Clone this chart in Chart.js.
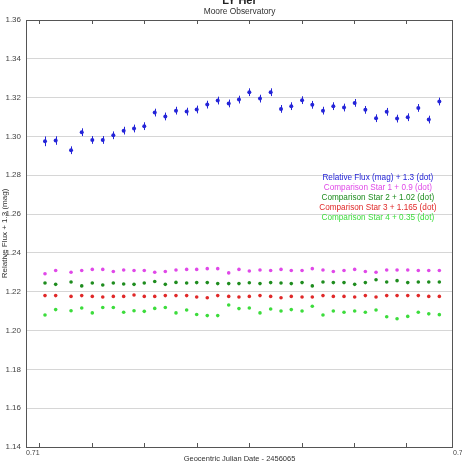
<!DOCTYPE html>
<html>
<head>
<meta charset="utf-8">
<title>LY Her</title>
<script src="https://cdn.jsdelivr.net/npm/chart.js@4"></script>
<style>
  html, body { margin: 0; padding: 0; background: #fff; }
  #wrap { width: 462px; height: 464px; }
</style>
</head>
<body>
<div id="wrap"><canvas id="chart" width="462" height="464"></canvas></div>
<script>
// Geocentric JD - 2456065
const jd = [
  0.71178, 0.71278, 0.71422, 0.71522, 0.71621, 0.71719, 0.71818, 0.71915, 0.72012, 0.72108,
  0.72206, 0.72305, 0.72405, 0.72505, 0.72599, 0.72698, 0.72796, 0.72899, 0.72995, 0.73092,
  0.73192, 0.73292, 0.73389, 0.73485, 0.73586, 0.73682, 0.73782, 0.73879, 0.73979, 0.74079,
  0.74179, 0.74279, 0.74379, 0.74476, 0.74576, 0.74675, 0.74773, 0.74872
];

// Relative flux (mag) + 1.3
const relFlux = [
  1.2975, 1.2979, 1.2929, 1.3022, 1.2982, 1.2982, 1.3006, 1.3030, 1.3041, 1.3053,
  1.3123, 1.3103, 1.3133, 1.3128, 1.3139, 1.3164, 1.3185, 1.3170, 1.3190, 1.3228,
  1.3195, 1.3228, 1.3142, 1.3156, 1.3187, 1.3163, 1.3133, 1.3156, 1.3149, 1.3173,
  1.3137, 1.3094, 1.3127, 1.3092, 1.3099, 1.3147, 1.3087, 1.3180
];
const relFluxErr = [
  0.0025, 0.0022, 0.0020, 0.0020, 0.0020, 0.0020, 0.0020, 0.0020, 0.0020, 0.0020,
  0.0020, 0.0020, 0.0020, 0.0020, 0.0020, 0.0020, 0.0020, 0.0020, 0.0020, 0.0020,
  0.0020, 0.0020, 0.0020, 0.0020, 0.0020, 0.0020, 0.0020, 0.0020, 0.0020, 0.0020,
  0.0020, 0.0020, 0.0020, 0.0020, 0.0020, 0.0020, 0.0020, 0.0020
];

// comparison stars
const comp1 = [
  1.2293, 1.2309, 1.2300, 1.2309, 1.2315, 1.2315, 1.2304, 1.2312, 1.2309, 1.2309,
  1.2300, 1.2304, 1.2312, 1.2315, 1.2315, 1.2319, 1.2319, 1.2297, 1.2315, 1.2307,
  1.2312, 1.2309, 1.2315, 1.2309, 1.2309, 1.2319, 1.2312, 1.2304, 1.2309, 1.2315,
  1.2304, 1.2300, 1.2312, 1.2312, 1.2312, 1.2309, 1.2309, 1.2309
];
const comp2 = [
  1.2245, 1.2238, 1.2250, 1.2230, 1.2245, 1.2235, 1.2245, 1.2240, 1.2238, 1.2245,
  1.2253, 1.2238, 1.2248, 1.2245, 1.2247, 1.2247, 1.2242, 1.2242, 1.2242, 1.2246,
  1.2242, 1.2247, 1.2245, 1.2242, 1.2247, 1.2230, 1.2250, 1.2247, 1.2247, 1.2238,
  1.2247, 1.2262, 1.2250, 1.2257, 1.2247, 1.2250, 1.2250, 1.2250
];
const comp3 = [
  1.2180, 1.2180, 1.2176, 1.2180, 1.2176, 1.2173, 1.2176, 1.2176, 1.2183, 1.2176,
  1.2176, 1.2180, 1.2180, 1.2180, 1.2173, 1.2169, 1.2180, 1.2176, 1.2173, 1.2176,
  1.2180, 1.2176, 1.2169, 1.2176, 1.2173, 1.2173, 1.2180, 1.2176, 1.2176, 1.2173,
  1.2180, 1.2173, 1.2180, 1.2180, 1.2180, 1.2180, 1.2176, 1.2176
];
const comp4 = [
  1.2080, 1.2108, 1.2102, 1.2116, 1.2091, 1.2119, 1.2119, 1.2094, 1.2102, 1.2099,
  1.2114, 1.2119, 1.2091, 1.2106, 1.2083, 1.2077, 1.2077, 1.2132, 1.2113, 1.2116,
  1.2091, 1.2111, 1.2101, 1.2108, 1.2101, 1.2125, 1.2080, 1.2101, 1.2094, 1.2101,
  1.2094, 1.2106, 1.2071, 1.2061, 1.2073, 1.2094, 1.2086, 1.2082
];

const seriesLabels = [
  'Relative Flux (mag) + 1.3 (dot)',
  'Comparison Star 1 + 0.9 (dot)',
  'Comparison Star 2 + 1.02 (dot)',
  'Comparison Star 3 + 1.165 (dot)',
  'Comparison Star 4 + 0.35 (dot)'
];
const seriesColors = ['#2424d8', '#e048e8', '#1e8c1e', '#e02828', '#3cdc3c'];

const xTickLabels = [0.71, 0.75];
const xTickMarks = [0.71124, 0.71615, 0.72107, 0.72598, 0.73090, 0.73581, 0.74072, 0.74564];

const FONT = "'Liberation Sans', Arial, sans-serif";
Chart.defaults.font.family = FONT;
Chart.defaults.font.size = 8;
Chart.defaults.color = '#444';

const toPoints = (ys) => ys.map((y, i) => ({ x: jd[i], y }));
const allSeries = [relFlux, comp1, comp2, comp3, comp4];

// error bars on the relative flux series
const errorBars = {
  id: 'errorBars',
  beforeDatasetsDraw(chart) {
    const { ctx, scales: { x, y } } = chart;
    ctx.save();
    ctx.strokeStyle = seriesColors[0];
    ctx.lineWidth = 1;
    relFlux.forEach((v, i) => {
      const px = Math.round(x.getPixelForValue(jd[i])) + 0.5;
      ctx.beginPath();
      ctx.moveTo(px, y.getPixelForValue(v + relFluxErr[i]));
      ctx.lineTo(px, y.getPixelForValue(v - relFluxErr[i]));
      ctx.stroke();
    });
    ctx.restore();
  }
};

// frame, inner ticks, titles and text legend
const decorations = {
  id: 'decorations',
  afterDraw(chart) {
    const { ctx, chartArea: a, scales: { x, y } } = chart;
    ctx.save();
    ctx.strokeStyle = '#555';
    ctx.lineWidth = 1;
    ctx.strokeRect(Math.round(a.left) + 0.5, Math.round(a.top) + 0.5,
      Math.round(a.right - a.left) - 1, Math.round(a.bottom - a.top));

    ctx.beginPath();
    xTickMarks.forEach(v => {
      const px = Math.round(x.getPixelForValue(v)) + 0.5;
      ctx.moveTo(px, a.bottom); ctx.lineTo(px, a.bottom - 4);
      ctx.moveTo(px, a.top); ctx.lineTo(px, a.top + 4);
    });
    ctx.stroke();

    ctx.textAlign = 'center';
    ctx.textBaseline = 'middle';
    const cx = (a.left + a.right) / 2;
    ctx.fillStyle = '#222';
    ctx.font = 'bold 11px ' + FONT;
    ctx.fillText('LY Her', cx, 1);
    ctx.fillStyle = '#333';
    ctx.font = '8.4px ' + FONT;
    ctx.fillText('Moore Observatory', cx, 12);

    const lx = a.left + (a.right - a.left) * 0.824;
    const ly = y.getPixelForValue(1.2785);
    ctx.font = '8.2px ' + FONT;
    seriesLabels.forEach((t, i) => {
      ctx.fillStyle = seriesColors[i];
      ctx.fillText(t, lx, ly + i * 10);
    });
    ctx.restore();
  }
};

new Chart(document.getElementById('chart'), {
  type: 'scatter',
  data: {
    datasets: allSeries.map((s, i) => ({
      label: seriesLabels[i],
      data: toPoints(s),
      backgroundColor: seriesColors[i],
      borderColor: seriesColors[i],
      pointRadius: i === 0 ? 2 : 1.8,
      pointBorderWidth: 0,
      showLine: false
    }))
  },
  options: {
    responsive: false,
    animation: false,
    layout: { padding: { top: 20, right: 9, left: 0, bottom: 0 } },
    plugins: {
      legend: { display: false },
      title: { display: false },
      tooltip: { enabled: false }
    },
    scales: {
      x: {
        type: 'linear',
        min: 0.71,
        max: 0.75,
        afterBuildTicks: (s) => { s.ticks = xTickLabels.map(v => ({ value: v })); },
        afterFit: (s) => { s.height = 17; s.paddingLeft = 0; s.paddingRight = 0; },
        ticks: {
          autoSkip: false,
          maxRotation: 0,
          align: 'start',
          padding: 2,
          font: { size: 7 },
          callback: (v) => v.toFixed(2)
        },
        grid: { display: false, drawTicks: false },
        border: { display: false },
        title: {
          display: true,
          text: 'Geocentric Julian Date - 2456065',
          color: '#333',
          padding: { top: 0, bottom: 1 },
          font: { size: 7.5 }
        }
      },
      y: {
        min: 1.14,
        max: 1.36,
        afterFit: (s) => { s.width = 26; },
        ticks: {
          stepSize: 0.02,
          padding: 5,
          font: { size: 8 },
          callback: (v) => v.toFixed(2)
        },
        grid: { color: '#d6d6d6', drawTicks: false },
        border: { display: false },
        title: {
          display: true,
          text: 'Relative Flux + 1.3 (mag)',
          color: '#333',
          padding: 0,
          font: { size: 8 }
        }
      }
    }
  },
  plugins: [errorBars, decorations]
});
</script>
</body>
</html>
